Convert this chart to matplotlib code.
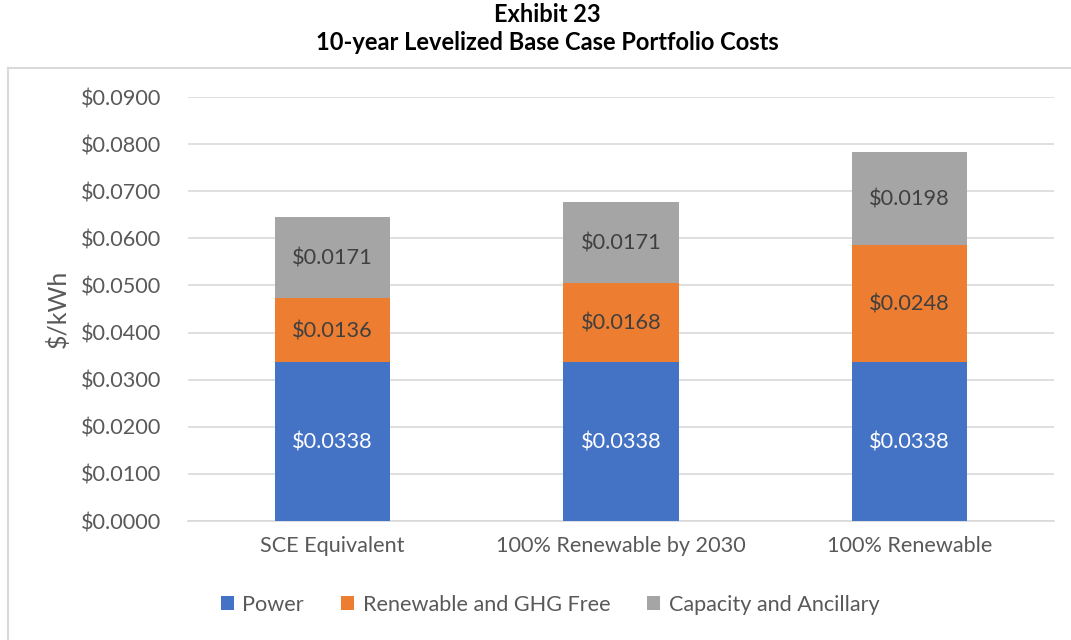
import matplotlib
matplotlib.use("Agg")
import matplotlib.pyplot as plt
from matplotlib.lines import Line2D
import numpy as np

plt.rcParams['font.family'] = ['Lato', 'DejaVu Sans']

categories = ["SCE Equivalent", "100% Renewable by 2030", "100% Renewable"]
power = [0.0338, 0.0338, 0.0338]
renewable = [0.0136, 0.0168, 0.0248]
capacity = [0.0171, 0.0171, 0.0198]
series_names = ["Power", "Renewable and GHG Free", "Capacity and Ancillary"]
colors = ["#4472C4", "#ED7D31", "#A5A5A5"]
label_colors = ["white", "#404040", "#404040"]

fig = plt.figure(figsize=(10.71, 6.40), dpi=100)
ax = fig.add_axes([188/1071, 1-521/640, 866/1071, 424/640])

x = np.arange(len(categories))
bottom = np.zeros(len(categories))
for vals, name, col, lc in zip([power, renewable, capacity], series_names, colors, label_colors):
    bars = ax.bar(x, vals, width=0.4, bottom=bottom, color=col, label=name, zorder=3)
    for b, v, b0 in zip(bars, vals, bottom):
        ax.text(b.get_x() + b.get_width()/2, b0 + v/2 - 0.0003, f"${v:.4f}",
                ha='center', va='center', color=lc, fontsize=15.7, zorder=4)
    bottom = bottom + np.array(vals)

ax.set_xlim(-0.5, 2.5)
ax.set_ylim(0, 0.09)
ax.set_yticks(np.arange(0, 0.0901, 0.01))
ax.set_yticklabels([f"${v:.4f}" for v in np.arange(0, 0.0901, 0.01)])
ax.set_xticks(x)
ax.set_xticklabels(categories)
ax.tick_params(axis='both', length=0, labelsize=15.6, labelcolor="#595959")
ax.tick_params(axis='y', pad=19)
ax.tick_params(axis='x', pad=11)
ax.grid(axis='y', color="#D9D9D9", linewidth=1.2, zorder=0)
for s in ['top', 'right', 'left']:
    ax.spines[s].set_visible(False)
ax.spines['bottom'].set_color("#D9D9D9")
ax.spines['bottom'].set_linewidth(1.2)
ax.set_ylabel("$/kWh", fontsize=18, color="#595959", labelpad=8)

fig.text(547/1071, 1-15/640, "Exhibit 23", ha='center', va='center', fontsize=17, fontweight='bold')
fig.text(547/1071, 1-43/640, "10-year Levelized Base Case Portfolio Costs", ha='center', va='center',
         fontsize=17, fontweight='bold')

ax.legend(loc='center', bbox_to_anchor=(550/1071, 1-605/640), bbox_transform=fig.transFigure,
          ncol=3, frameon=False, fontsize=15.6, handlelength=0.6, handleheight=0.6,
          columnspacing=1.7, handletextpad=0.4, labelcolor="#595959")

# chart frame
ytop = 1 - 68/640
xl = 8/1071
fig.add_artist(Line2D([xl, 1], [ytop, ytop], transform=fig.transFigure, color="#D9D9D9", lw=1.5))
fig.add_artist(Line2D([xl, xl], [0, ytop], transform=fig.transFigure, color="#D9D9D9", lw=1.5))

fig.savefig("out.png", dpi=100)
